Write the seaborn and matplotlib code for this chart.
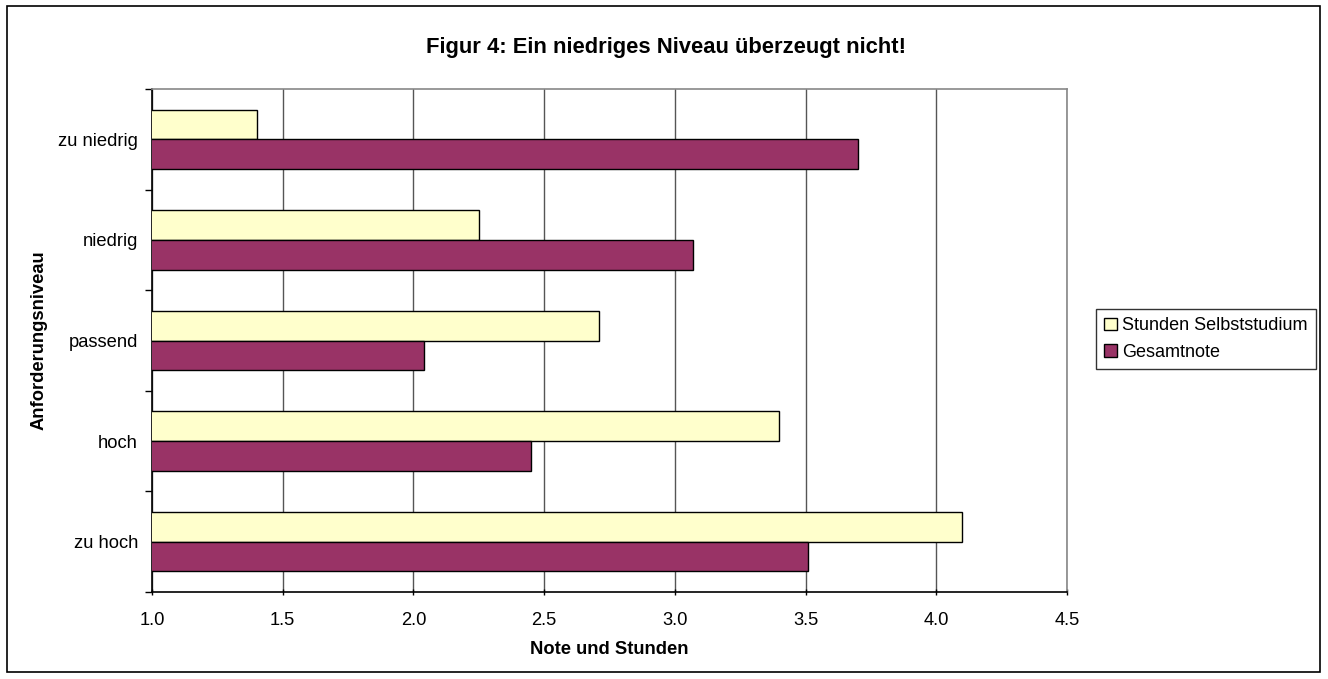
import pandas as pd
import matplotlib
matplotlib.use("Agg")
import matplotlib.pyplot as plt
import seaborn as sns
from matplotlib.patches import Rectangle

# ========== DATA ==========
levels = ["zu niedrig", "niedrig", "passend", "hoch", "zu hoch"]
stunden = [1.40, 2.25, 2.71, 3.40, 4.10]
gesamtnote = [3.70, 3.07, 2.04, 2.45, 3.51]
series_names = ["Stunden Selbststudium", "Gesamtnote"]
x_ticks = [1.0, 1.5, 2.0, 2.5, 3.0, 3.5, 4.0, 4.5]

df = pd.DataFrame({"Anforderungsniveau": levels,
                   series_names[0]: stunden,
                   series_names[1]: gesamtnote})
long_df = df.melt(id_vars="Anforderungsniveau", var_name="Serie", value_name="Wert")

# ========== STYLE ==========
sns.set_style("white")
plt.rcParams["font.family"] = ["Liberation Sans", "DejaVu Sans"]
plt.rcParams["text.color"] = "black"
plt.rcParams["axes.labelcolor"] = "black"
plt.rcParams["xtick.color"] = "black"
plt.rcParams["ytick.color"] = "black"

fig = plt.figure(figsize=(13.28, 6.79), dpi=100)
ax = fig.add_axes([152 / 1328, 1 - 592 / 679, 915 / 1328, 503 / 679])

sns.barplot(data=long_df, y="Anforderungsniveau", x="Wert", hue="Serie",
            order=levels, hue_order=series_names,
            palette=["#FFFFCC", "#993366"], orient="h", width=0.59,
            edgecolor="black", linewidth=1.0, saturation=1, ax=ax, zorder=3)

ax.set_xlim(1.0, 4.5)
ax.set_xticks(x_ticks)
ax.set_xticklabels([f"{t:.1f}" for t in x_ticks], fontsize=13.2)
ax.set_ylim(len(levels) - 0.5, -0.5)
ax.set_yticks(range(len(levels)))
ax.set_yticklabels(levels, fontsize=13.2)
ax.set_yticks([i - 0.5 for i in range(len(levels) + 1)], minor=True)
ax.tick_params(axis="y", which="major", left=False, length=0, pad=10)
ax.tick_params(axis="y", which="minor", left=True, length=5, width=1,
               color="black", direction="out")
ax.tick_params(axis="x", which="major", bottom=True, length=5, width=1,
               color="black", direction="inout", pad=12)

ax.grid(axis="x", color="#555555", linewidth=1, zorder=0)
ax.set_axisbelow(True)

for side in ["left", "bottom"]:
    ax.spines[side].set_color("black")
    ax.spines[side].set_linewidth(1.2)
for side in ["top", "right"]:
    ax.spines[side].set_color("#888888")
    ax.spines[side].set_linewidth(1.2)

ax.set_xlabel("Note und Stunden", fontsize=13.2, fontweight="bold")
ax.xaxis.set_label_coords(0.5, -0.097)
ax.set_ylabel("Anforderungsniveau", fontsize=13.2, fontweight="bold")
ax.yaxis.set_label_coords(-0.114, 0.5)

leg = ax.legend(loc="center left", bbox_to_anchor=(1096 / 1328, 1 - 339 / 679),
                bbox_transform=fig.transFigure, frameon=True, fancybox=False,
                edgecolor="black", fontsize=13.0, handlelength=0.7, handleheight=0.7,
                handletextpad=0.3, borderpad=0.45, labelspacing=0.5, borderaxespad=0)
leg.get_frame().set_linewidth(1.0)

fig.text(666 / 1328, 1 - 47 / 679, "Figur 4: Ein niedriges Niveau überzeugt nicht!",
         ha="center", va="center", fontsize=15.8, fontweight="bold")

# outer chart frame
fig.patches.append(Rectangle((7 / 1328, 1 - 672 / 679), 1313 / 1328, 666 / 679,
                             transform=fig.transFigure, fill=False,
                             edgecolor="black", linewidth=1.2))

fig.savefig("out.png", dpi=100)
plt.close(fig)
